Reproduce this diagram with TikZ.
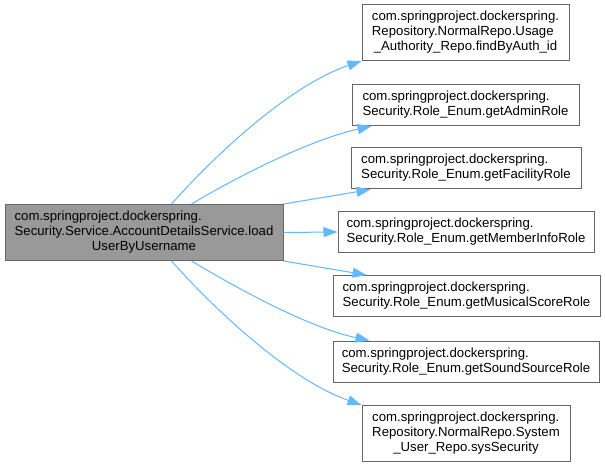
\documentclass[tikz,border=0pt]{standalone}
\usepackage{fontspec}
\setmainfont{Liberation Sans}
\usetikzlibrary{arrows.meta,calc}
\definecolor{edgec}{HTML}{63B8FF}
\definecolor{borderc}{HTML}{666666}
\definecolor{mainfill}{HTML}{999999}
\begin{document}
\begin{tikzpicture}[x=1pt,y=-1pt,
  box/.style={draw=borderc,line width=1pt,fill=white,inner sep=0pt,
    font=\fontsize{13.2}{15}\selectfont},
  two/.style={box,minimum height=41pt},
  three/.style={box,minimum height=56pt},
  call/.style={draw=edgec,line width=1pt,-{Triangle[length=14pt,width=10pt]},shorten >=0pt}]
\useasboundingbox (0,0) rectangle (605,465);
\fill[white] (0,0) rectangle (605,465);
\newcommand{\lns}[2]{\begin{tabular}{@{}l@{}}#1\\#2\end{tabular}}
\newcommand{\lnt}[3]{\begin{tabular}{@{}l@{}}#1\\#2\\\multicolumn{1}{@{}c@{}}{#3}\end{tabular}}
\node[three,fill=mainfill,minimum width=278pt] (main) at (144,232.5)
  {\lnt{com.springproject.dockerspring.}{Security.Service.AccountDetailsService.load}{UserByUsername}};
\node[three,minimum width=207pt] (b1) at (465.5,32.5)
  {\lnt{com.springproject.dockerspring.}{Repository.NormalRepo.Usage}{\_Authority\_Repo.findByAuth\_id}};
\node[two,minimum width=227pt] (b2) at (465.5,105)
  {\lns{com.springproject.dockerspring.}{Security.Role\_Enum.getAdminRole}};
\node[two,minimum width=230pt] (b3) at (466,168.5)
  {\lns{com.springproject.dockerspring.}{Security.Role\_Enum.getFacilityRole}};
\node[two,minimum width=256pt] (b4) at (466,232)
  {\lns{com.springproject.dockerspring.}{Security.Role\_Enum.getMemberInfoRole}};
\node[two,minimum width=267pt] (b5) at (466.5,296)
  {\lns{com.springproject.dockerspring.}{Security.Role\_Enum.getMusicalScoreRole}};
\node[two,minimum width=266pt] (b6) at (466,361.5)
  {\lns{com.springproject.dockerspring.}{Security.Role\_Enum.getSoundSourceRole}};
\node[three,minimum width=208pt] (b7) at (466,433.5)
  {\lnt{com.springproject.dockerspring.}{Repository.NormalRepo.System}{\_User\_Repo.sysSecurity}};
\coordinate (s1) at ($(main.north west)+(167,0)$);
\coordinate (s2) at ($(main.north west)+(187,0)$);
\coordinate (s7) at ($(main.south west)+(167,0)$);
\coordinate (s6) at ($(main.south west)+(187,0)$);
\coordinate (e2) at ($(b2.south west)+(20,0)$);
\coordinate (e3) at ($(b3.south west)+(20,0)$);
\coordinate (e5) at ($(b5.north west)+(34,0)$);
\coordinate (e6) at ($(b6.north west)+(37,0)$);
\draw[call] (s1) .. controls (215,155) and (290,85) .. (b1.south west);
\draw[call] (s2) .. controls (240,175) and (310,140) .. (e2);
\draw[call] (main.north east) -- (e3);
\draw[call] (main.east) -- (b4.west);
\draw[call] (main.south east) -- (e5);
\draw[call] (s6) .. controls (240,290) and (310,328) .. (e6);
\draw[call] (s7) .. controls (215,310) and (290,380) .. (b7.north west);
\end{tikzpicture}
\end{document}
